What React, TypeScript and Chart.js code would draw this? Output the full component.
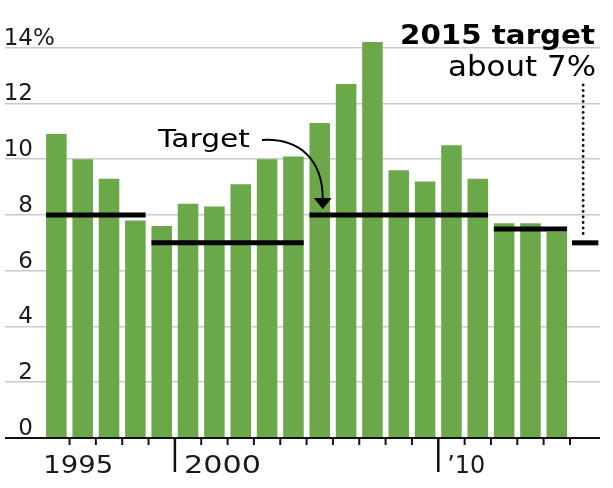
import { useEffect, useRef } from 'react';
import { Chart, registerables } from 'chart.js';
Chart.register(...registerables);

const years = [1995, 1996, 1997, 1998, 1999, 2000, 2001, 2002, 2003, 2004, 2005, 2006, 2007, 2008, 2009, 2010, 2011, 2012, 2013, 2014];
const growth = [10.9, 10.0, 9.3, 7.8, 7.6, 8.4, 8.3, 9.1, 10.0, 10.1, 11.3, 12.7, 14.2, 9.6, 9.2, 10.5, 9.3, 7.7, 7.7, 7.4];
const yTicks = [0, 2, 4, 6, 8, 10, 12, 14];
const xLabelYears = [1995, 2000, 2010];
const xLabels = ['1995', '2000', '\u201910'];
const majorTickYears = [2000, 2010];
const targetFrom = [1995, 1999, 2005, 2012];
const targetTo = [1998, 2004, 2011, 2014];
const targetValue = [8, 7, 8, 7.5];
const nextYear = 2015;
const nextTarget = 7;
const titleLine1 = '2015 target';
const titleLine2 = 'about 7%';
const targetLabel = 'Target';
const arrowToYear = 2005;

const GREEN = '#6aa84a';
const FONT = '"DejaVu Sans", sans-serif';

function fitText(ctx: CanvasRenderingContext2D, text: string, x: number, y: number, font: string, align: 'left' | 'right', width: number) {
  ctx.save();
  ctx.font = font;
  const w = ctx.measureText(text).width;
  const sx = width / w;
  ctx.translate(x, y);
  ctx.scale(sx, 1);
  ctx.textAlign = align;
  ctx.textBaseline = 'alphabetic';
  ctx.fillText(text, 0, 0);
  ctx.restore();
}

const overlay = {
  id: 'overlay',
  afterDatasetsDraw(chart: any) {
    const ctx: CanvasRenderingContext2D = chart.ctx;
    const xs = chart.scales.x;
    const ys = chart.scales.y;
    const area = chart.chartArea;
    const meta = chart.getDatasetMeta(0);
    const half = meta.data[0].width / 2;
    const slot = xs.getPixelForValue(years[1]) - xs.getPixelForValue(years[0]);
    ctx.save();

    // target lines
    ctx.strokeStyle = '#000';
    ctx.lineWidth = 5;
    ctx.lineCap = 'butt';
    for (let i = 0; i < targetFrom.length; i++) {
      const y = ys.getPixelForValue(targetValue[i]);
      ctx.beginPath();
      ctx.moveTo(xs.getPixelForValue(targetFrom[i]) - half, y);
      ctx.lineTo(xs.getPixelForValue(targetTo[i]) + half, y);
      ctx.stroke();
    }
    const nx = xs.getPixelForValue(nextYear);
    const ny = ys.getPixelForValue(nextTarget);
    ctx.beginPath();
    ctx.moveTo(nx - slot / 2 + 2, ny);
    ctx.lineTo(nx + slot / 2 + 2, ny);
    ctx.stroke();

    // dotted line
    ctx.fillStyle = '#111';
    for (let y = 85; y < ny - 8; y += 5.5) {
      ctx.beginPath();
      ctx.arc(nx, y, 1.4, 0, Math.PI * 2);
      ctx.fill();
    }

    // axis line
    const y0 = ys.getPixelForValue(0);
    ctx.strokeStyle = '#111';
    ctx.lineWidth = 2;
    ctx.beginPath();
    ctx.moveTo(area.left, y0);
    ctx.lineTo(area.right, y0);
    ctx.stroke();

    // ticks
    for (let yr = years[0] + 1; yr <= years[years.length - 1] + 1; yr++) {
      const x = xs.getPixelForValue(yr - 0.5);
      const major = majorTickYears.includes(yr);
      ctx.lineWidth = major ? 2.5 : 2;
      ctx.beginPath();
      ctx.moveTo(x, y0);
      ctx.lineTo(x, y0 + (major ? 34 : 7));
      ctx.stroke();
    }

    // x labels
    ctx.fillStyle = '#1a1a1a';
    for (let i = 0; i < xLabelYears.length; i++) {
      const yr = xLabelYears[i];
      const major = majorTickYears.includes(yr);
      const x = xs.getPixelForValue(yr - 0.5) + (major ? 9 : 0);
      const w = xLabels[i].length === 4 ? (yr === 2000 ? 77 : 70) : 38;
      fitText(ctx, xLabels[i], x, y0 + 35, `25px ${FONT}`, 'left', w);
    }

    // y labels
    ctx.font = `23px ${FONT}`;
    ctx.textBaseline = 'alphabetic';
    for (const v of yTicks) {
      const y = ys.getPixelForValue(v) - 3;
      ctx.textAlign = 'right';
      ctx.fillText(String(v), area.left + 28, y);
      if (v === yTicks[yTicks.length - 1]) {
        ctx.textAlign = 'left';
        ctx.fillText('%', area.left + 28, y);
      }
    }

    // title
    ctx.fillStyle = '#000';
    fitText(ctx, titleLine1, 595, 44, `bold 26px ${FONT}`, 'right', 195);
    fitText(ctx, titleLine2, 596, 76, `29px ${FONT}`, 'right', 148);

    // Target label + arrow
    fitText(ctx, targetLabel, 158, 147, `25px ${FONT}`, 'left', 92);
    const tx = xs.getPixelForValue(arrowToYear) + 3;
    const ty = ys.getPixelForValue(targetValue[2]) - 6;
    ctx.strokeStyle = '#000';
    ctx.lineWidth = 2;
    ctx.beginPath();
    ctx.moveTo(262, 140);
    ctx.bezierCurveTo(300, 138, tx, 160, tx, ty - 10);
    ctx.stroke();
    ctx.beginPath();
    ctx.moveTo(tx - 9, ty - 11);
    ctx.lineTo(tx + 9, ty - 11);
    ctx.lineTo(tx, ty);
    ctx.closePath();
    ctx.fill();

    ctx.restore();
  },
};

export default function App() {
  const ref = useRef<HTMLCanvasElement>(null);
  useEffect(() => {
    if (!ref.current) return;
    const chart = new Chart(ref.current, {
      type: 'bar',
      data: {
        datasets: [
          {
            data: years.map((y, i) => ({ x: y, y: growth[i] })),
            backgroundColor: GREEN,
            borderWidth: 0,
            barPercentage: 0.78,
            categoryPercentage: 1,
          },
        ],
      },
      options: {
        responsive: false,
        animation: false,
        layout: { padding: { left: 5, right: 13, top: 10, bottom: 50 } },
        plugins: { legend: { display: false }, tooltip: { enabled: false } },
        scales: {
          x: { type: 'linear', min: 1993.05, max: 2015.64, offset: false, bounds: 'data', display: false },
          y: {
            min: 0,
            max: 15.35,
            afterBuildTicks: (s: any) => {
              s.ticks = yTicks.map((v) => ({ value: v }));
            },
            ticks: { display: false },
            border: { display: false },
            grid: { color: '#c9c9c9', lineWidth: 1.5, drawTicks: false },
          },
        },
      },
      plugins: [overlay],
    } as any);
    return () => chart.destroy();
  }, []);
  return (
    <div style={{ position: 'fixed', left: 0, top: 0, width: 613, height: 488, background: '#fff' }}>
      <canvas ref={ref} width={613} height={488} />
    </div>
  );
}
